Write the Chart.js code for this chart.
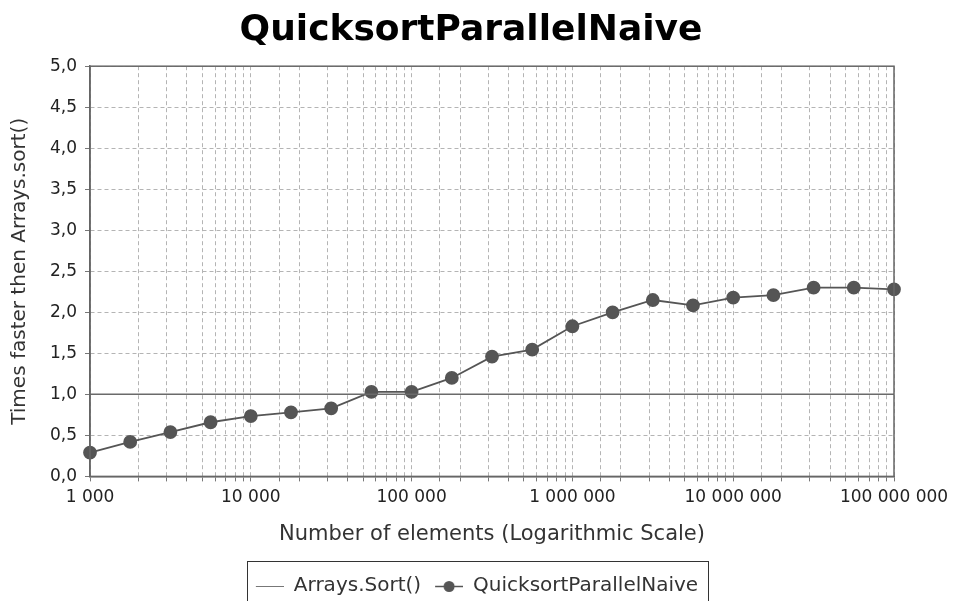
<!DOCTYPE html>
<html>
<head>
<meta charset="utf-8">
<script src="https://cdn.jsdelivr.net/npm/chart.js@4/dist/chart.umd.min.js"></script>
<style>
  html, body { margin: 0; padding: 0; background: #fff; }
  #wrap { width: 958px; height: 601px; }
</style>
</head>
<body>
<div id="wrap"><canvas id="chart"></canvas></div>
<script>
// sizes: 1000 .. 100 000 000, four steps per decade
var sizes = [1000, 1778, 3162, 5623, 10000, 17783, 31623, 56234, 100000, 177828, 316228,
  562341, 1000000, 1778279, 3162278, 5623413, 10000000, 17782794, 31622777, 56234133, 100000000];
var speedup = [0.29, 0.42, 0.54, 0.66, 0.735, 0.78, 0.83, 1.03, 1.03, 1.20, 1.46,
  1.545, 1.83, 2.00, 2.15, 2.085, 2.18, 2.21, 2.30, 2.30, 2.28];
var baselineX = [1000, 100000000];
var baselineY = [1, 1];

var grey = '#555555';
var iconW = 40;

function spaced(v) {
  return String(v).replace(/\B(?=(\d{3})+(?!\d))/g, ' ');
}

// legend icons, drawn in the right-hand 28px of the icon canvas
function makeIcon(dot) {
  var cv = document.createElement('canvas');
  cv.width = iconW; cv.height = 14;
  var c = cv.getContext('2d');
  c.strokeStyle = dot ? grey : '#777';
  c.lineWidth = dot ? 1.5 : 1;
  c.beginPath(); c.moveTo(iconW - 28, 7.5); c.lineTo(iconW, 7.5); c.stroke();
  if (dot) {
    c.fillStyle = grey;
    c.beginPath(); c.arc(iconW - 14, 7.5, 5.5, 0, Math.PI * 2); c.fill();
  }
  return cv;
}
var lineIcon = makeIcon(false);
var dotIcon = makeIcon(true);

var frame = {
  id: 'frame',
  afterDatasetsDraw: function (chart) {
    var a = chart.chartArea, ctx = chart.ctx;
    ctx.save();
    ctx.strokeStyle = '#666'; ctx.lineWidth = 1.5;
    ctx.strokeRect(a.left, a.top, a.right - a.left, a.bottom - a.top);
    ctx.restore();
  },
  afterDraw: function (chart) {
    var hb = chart.legend.legendHitBoxes;
    if (!hb || !hb.length) return;
    var first = hb[0], last = hb[hb.length - 1];
    var l = first.left + (iconW - 28) - 9;
    var r = last.left + last.width + 10;
    var t = first.top + first.height / 2 - 25;
    var ctx = chart.ctx;
    ctx.save();
    ctx.strokeStyle = '#333'; ctx.lineWidth = 1;
    ctx.strokeRect(Math.round(l) + 0.5, Math.round(t) + 0.5, Math.round(r - l), 60);
    ctx.restore();
  }
};

var gridOpts = {
  color: '#b4b4b4',
  tickBorderDash: [],
  tickColor: '#777',
  tickLength: 5
};

new Chart(document.getElementById('chart'), {
  type: 'line',
  data: {
    datasets: [{
      label: 'Arrays.Sort()',
      data: baselineX.map(function (x, i) { return { x: x, y: baselineY[i] }; }),
      borderColor: '#6a6a6a',
      borderWidth: 1.5,
      pointRadius: 0,
      fill: false
    }, {
      label: 'QuicksortParallelNaive',
      data: sizes.map(function (x, i) { return { x: x, y: speedup[i] }; }),
      borderColor: grey,
      borderWidth: 1.8,
      pointRadius: 6,
      pointBackgroundColor: grey,
      pointBorderColor: grey,
      pointStyle: 'circle',
      fill: false
    }]
  },
  options: {
    responsive: true,
    maintainAspectRatio: false,
    animation: false,
    clip: false,
    layout: { padding: { left: 48, right: 64, top: 0, bottom: -5 } },
    plugins: {
      title: {
        display: true,
        text: 'QuicksortParallelNaive',
        color: '#000',
        font: { family: 'DejaVu Sans', size: 36, weight: 'bold' },
        padding: { top: 9, bottom: 14 }
      },
      legend: {
        display: true,
        position: 'bottom',
        labels: {
          color: '#333',
          font: { family: 'DejaVu Sans', size: 20 },
          usePointStyle: true,
          pointStyleWidth: iconW,
          padding: 2,
          generateLabels: function (chart) {
            return chart.data.datasets.map(function (ds, i) {
              return {
                text: ds.label,
                pointStyle: i === 0 ? lineIcon : dotIcon,
                datasetIndex: i,
                lineWidth: 0,
                fontColor: '#333'
              };
            });
          }
        }
      },
      tooltip: { enabled: false }
    },
    scales: {
      x: {
        type: 'logarithmic',
        min: 1000,
        max: 100000000,
        title: {
          display: true,
          text: 'Number of elements (Logarithmic Scale)',
          color: '#333',
          font: { family: 'DejaVu Sans', size: 21 },
          padding: { top: 8, bottom: 27 }
        },
        ticks: {
          autoSkip: false,
          maxRotation: 0,
          color: '#222',
          font: { family: 'DejaVu Sans', size: 17 },
          padding: 6,
          callback: function (v) {
            var e = Math.log10(v);
            return Math.abs(e - Math.round(e)) < 1e-9 ? spaced(v) : '';
          }
        },
        grid: gridOpts,
        border: { display: true, color: '#666', width: 1.5, dash: [4, 3] }
      },
      y: {
        min: 0,
        max: 5,
        afterFit: function (scale) { scale.width = 42; },
        title: {
          display: true,
          text: 'Times faster then Arrays.sort()',
          color: '#333',
          font: { family: 'DejaVu Sans', size: 20 },
          padding: { top: -40, bottom: 2 }
        },
        ticks: {
          stepSize: 0.5,
          color: '#222',
          font: { family: 'DejaVu Sans', size: 17 },
          padding: 8,
          callback: function (v) { return v.toFixed(1).replace('.', ','); }
        },
        grid: gridOpts,
        border: { display: true, color: '#666', width: 1.5, dash: [4, 3] }
      }
    }
  },
  plugins: [frame]
});
</script>
</body>
</html>
